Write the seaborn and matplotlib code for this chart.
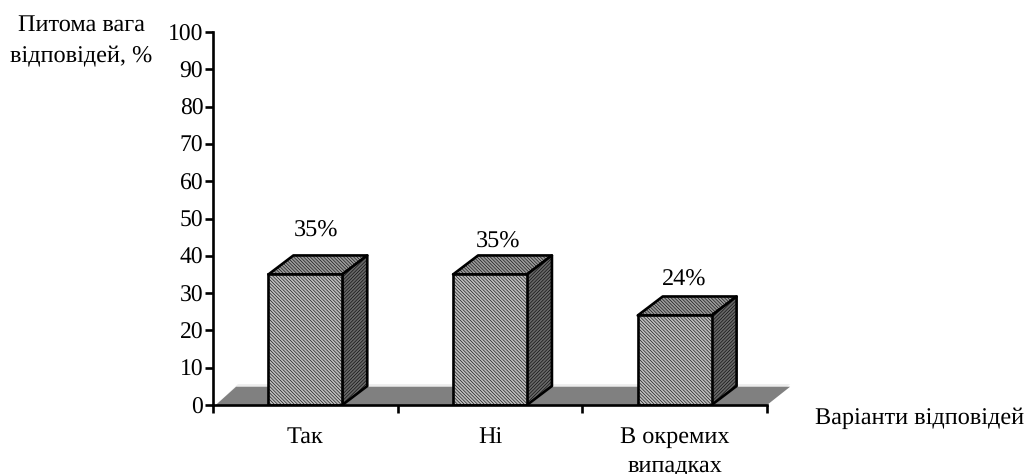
import matplotlib
matplotlib.use("Agg")
import matplotlib.pyplot as plt
from matplotlib.patches import Polygon
import pandas as pd
import seaborn as sns

categories = ["Так", "Ні", "В окремих\nвипадках"]
values = [35, 35, 24]
value_labels = ["35%", "35%", "24%"]
y_ticks = list(range(0, 101, 10))

W, H = 1028, 474
sns.set_theme(style="white")
plt.rcParams["font.family"] = ["Liberation Serif", "DejaVu Serif"]
plt.rcParams["hatch.linewidth"] = 0.4
plt.rcParams["text.hinting"] = "no_hinting"

fig = plt.figure(figsize=(W / 100, H / 100), dpi=100, facecolor="white")
left, right, top, bottom = 213, 767, 32, 405
ax = fig.add_axes([left / W, 1 - bottom / H, (right - left) / W, (bottom - top) / H])

df = pd.DataFrame({"category": categories, "value": values})
sns.barplot(data=df, x="category", y="value", ax=ax, width=0.4, color="white",
            saturation=1, zorder=3)
ax.set_xlim(-0.5, 2.5)
ax.set_ylim(0, 100)

# Oblique offset of the pseudo-3D depth, in data units
dx = 25 / ((right - left) / 3)
dy = 19 / ((bottom - top) / 100)

# Floor plane behind the bars
floor_kw = dict(closed=True, clip_on=False, lw=0)
ax.add_patch(Polygon([(-0.485, 0), (-0.5 + 0.135, dy + 0.5), (2.5 + 0.125, dy + 0.5), (2.5, 0)],
                     facecolor="#ededed", zorder=0.5, **floor_kw))
ax.add_patch(Polygon([(-0.485, 0), (-0.5 + 0.125, dy - 0.2), (2.5 + 0.125, dy - 0.2), (2.5, 0)],
                     facecolor="#808080", zorder=1, **floor_kw))

# Front, top and side faces of each bar
edge_lw = 1.9
bars = [p for p in ax.patches if not isinstance(p, Polygon)]
for bar in bars:
    x0, w, h = bar.get_x(), bar.get_width(), bar.get_height()
    x1 = x0 + w
    bar.set(facecolor="#bcbcbc", edgecolor="black", linewidth=edge_lw, hatch="\\" * 10)
    ax.add_patch(Polygon([(x0, h), (x0 + dx, h + dy), (x1 + dx, h + dy), (x1, h)],
                         facecolor="#9a9a9a", edgecolor="black", lw=edge_lw, hatch="\\" * 10,
                         zorder=2.8, joinstyle="round"))
    ax.add_patch(Polygon([(x1, 0), (x1 + dx, dy), (x1 + dx, h + dy), (x1, h)],
                         facecolor="#686868", edgecolor="black", lw=edge_lw, hatch="/" * 10,
                         zorder=2.8, joinstyle="round"))

# Value labels, nudged in pixels from the top of each bar
nudges = [(11, 44), (8, 33), (9, 36)]
for i, (v, txt, (ox, oy)) in enumerate(zip(values, value_labels, nudges)):
    ax.annotate(txt, xy=(i, v), xytext=(ox * 0.72, oy * 0.72), textcoords="offset points",
                ha="center", va="center", fontsize=17.5, color="black", zorder=5)

for side in ("top", "right"):
    ax.spines[side].set_visible(False)
for side in ("left", "bottom"):
    ax.spines[side].set(color="black", linewidth=edge_lw, zorder=6)

ax.set_xlabel("")
ax.set_ylabel("")
ax.set_yticks(y_ticks)
ax.tick_params(axis="y", left=True, length=5.5, width=edge_lw, color="black", labelsize=17,
               labelcolor="black", pad=1.5)
ax.set_xticks([0, 1, 2])
ax.set_xticklabels(categories, linespacing=1.4, va="top")
ax.tick_params(axis="x", which="major", length=0, labelsize=17.5, labelcolor="black", pad=15.5)
ax.set_xticks([-0.5, 0.5, 1.5, 2.5], minor=True)
ax.tick_params(axis="x", which="minor", bottom=True, length=5.5, width=edge_lw, color="black")

fig.text(81 / W, 1 - 25 / H, "Питома вага", ha="center", va="center", fontsize=17.5, color="black")
fig.text(81 / W, 1 - 57 / H, "відповідей, %", ha="center", va="center", fontsize=17.5, color="black")
fig.text(1024 / W, 1 - 418 / H, "Варіанти відповідей", ha="right", va="center", fontsize=17.5, color="black")

fig.savefig("out.png", dpi=100, facecolor="white")
